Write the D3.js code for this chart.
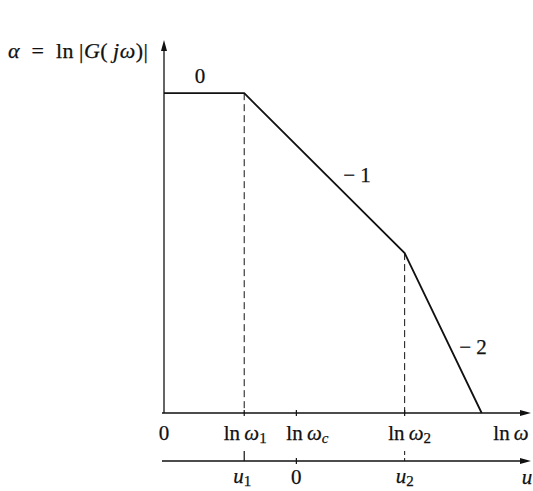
<!DOCTYPE html>
<html>
<head>
<meta charset="utf-8">
<script src="https://cdn.jsdelivr.net/npm/d3@7"></script>
<style>
  body { margin: 0; background: #fff; }
  text { font-family: "Liberation Serif", "DejaVu Serif", serif; fill: #111; stroke: #111; stroke-width: 0.25; }
</style>
</head>
<body>
<script>
const WIDTH = 533;
const HEIGHT = 491;

// asymptotic log-magnitude curve (ln w on x, alpha on y)
const lnW = [0, 2, 6, 7.92];
const alpha = [8, 8, 4, 0];
const slopes = ["0", "\u2212 1", "\u2212 2"];

// named points on the ln w axis
const lnW1 = 2, lnWc = 3.3, lnW2 = 6;
const xMax = 9.15, yMax = 9.33;

var svg = d3.select("body").append("svg")
    .attr("width", WIDTH)
    .attr("height", HEIGHT);

var x = d3.scaleLinear().domain([0, xMax]).range([164, 531]);
var y = d3.scaleLinear().domain([0, yMax]).range([413, 40]);
var uY = 461; // second (u) axis

var ink = "#111";

function arrow(x1, y1, dir) {
    // small filled arrowhead; dir: "up" or "right"
    var p = dir === "up"
        ? [[x1, y1], [x1 - 3, y1 + 11], [x1 + 3, y1 + 11]]
        : [[x1, y1], [x1 - 11, y1 - 3], [x1 - 11, y1 + 3]];
    svg.append("path").attr("d", d3.line()(p) + "Z").attr("fill", ink);
}

// axes
svg.append("line").attr("x1", x(0)).attr("x2", x(0)).attr("y1", y(0)).attr("y2", y(yMax) + 4)
    .attr("stroke", ink).attr("stroke-width", 1.3);
arrow(x(0), y(yMax), "up");
svg.append("line").attr("x1", x(0) - 2).attr("x2", x(xMax) - 4).attr("y1", y(0)).attr("y2", y(0))
    .attr("stroke", ink).attr("stroke-width", 1.3);
arrow(x(xMax), y(0), "right");
svg.append("line").attr("x1", x(0) - 2).attr("x2", x(xMax) - 4).attr("y1", uY).attr("y2", uY)
    .attr("stroke", ink).attr("stroke-width", 1.3);
arrow(x(xMax), uY, "right");

// small ticks
[lnW1, lnWc, lnW2].forEach(function (v) {
    svg.append("line").attr("x1", x(v)).attr("x2", x(v)).attr("y1", y(0) - 3).attr("y2", y(0) + 3)
        .attr("stroke", ink).attr("stroke-width", 1.2);
});
svg.append("line").attr("x1", x(lnW1)).attr("x2", x(lnW1)).attr("y1", uY - 10).attr("y2", uY)
    .attr("stroke", ink).attr("stroke-width", 1.2);
svg.append("line").attr("x1", x(lnWc)).attr("x2", x(lnWc)).attr("y1", uY - 3).attr("y2", uY + 3)
    .attr("stroke", ink).attr("stroke-width", 1.2);
svg.append("line").attr("x1", x(lnW2)).attr("x2", x(lnW2)).attr("y1", uY - 10).attr("y2", uY)
    .attr("stroke", ink).attr("stroke-width", 1).attr("stroke-dasharray", "4,3");

// dashed drop lines at the corner frequencies
[1, 2].forEach(function (i) {
    svg.append("line").attr("x1", x(lnW[i])).attr("x2", x(lnW[i]))
        .attr("y1", y(alpha[i])).attr("y2", y(0))
        .attr("stroke", ink).attr("stroke-width", 1).attr("stroke-dasharray", "7,4");
});

// the curve
var pts = lnW.map(function (v, i) { return [x(v), y(alpha[i])]; });
svg.append("path").attr("d", d3.line()(pts))
    .attr("fill", "none").attr("stroke", ink).attr("stroke-width", 1.8);

// slope labels
svg.append("text").attr("x", x((lnW[0] + lnW[1]) / 2) - 4).attr("y", y(alpha[0]) - 10)
    .attr("text-anchor", "middle").attr("font-size", 21).text(slopes[0]);
svg.append("text").attr("x", 357).attr("y", 182)
    .attr("text-anchor", "middle").attr("font-size", 21).text(slopes[1]);
svg.append("text").attr("x", 473).attr("y", 354)
    .attr("text-anchor", "middle").attr("font-size", 21).text(slopes[2]);

// label helper: parts = [[text, style]] style: "r" roman, "i" italic, "s" subscript, "si" italic subscript
function label(px, py, parts, anchor, size) {
    var t = svg.append("text").attr("x", px).attr("y", py)
        .attr("font-size", size || 21).attr("text-anchor", anchor || "middle");
    parts.forEach(function (p) {
        var s = t.append("tspan").text(p[0]);
        if (p[1].indexOf("i") >= 0) s.attr("font-style", "italic");
        if (p[1].indexOf("s") >= 0) s.attr("font-size", 15).attr("baseline-shift", "-20%");
    });
    return t;
}

// upper axis labels
label(x(0), 440, [["0", "r"]]);
label(x(lnW1) + 1, 440, [["ln\u2009", "r"], ["\u03c9", "i"], ["1", "s"]]);
label(x(lnWc) + 11, 440, [["ln\u2009", "r"], ["\u03c9", "i"], ["c", "si"]]);
label(x(lnW2) + 5, 440, [["ln\u2009", "r"], ["\u03c9", "i"], ["2", "s"]]);
label(511, 440, [["ln\u2009", "r"], ["\u03c9", "i"]]);

// lower axis labels
label(x(lnW1) - 2, 483, [["u", "i"], ["1", "s"]]);
label(x(lnWc), 484, [["0", "r"]]);
label(x(lnW2), 483, [["u", "i"], ["2", "s"]]);
label(527, 484, [["u", "i"]]);

// y label
label(8, 58, [["\u03b1", "i"], ["\u2002=\u2002ln\u2009|", "r"], ["G", "i"], ["(\u2009", "r"], ["j\u03c9", "i"], [")|", "r"]], "start", 22)
    .attr("letter-spacing", 0.5);
</script>
</body>
</html>
